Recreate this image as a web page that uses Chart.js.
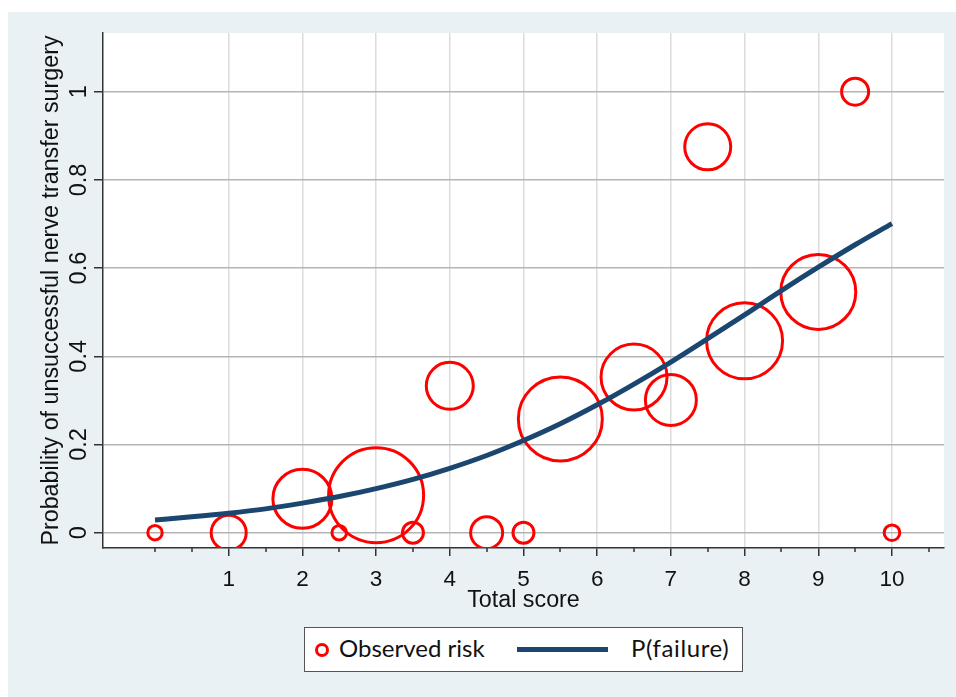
<!DOCTYPE html>
<html>
<head>
<meta charset="utf-8">
<script src="https://cdn.jsdelivr.net/npm/chart.js@4"></script>
<style>
  html, body { margin: 0; padding: 0; background: #ffffff; }
  #wrap { position: absolute; left: 8px; top: 12px; width: 948px; height: 685px; background: #e9f1f4; }
  #legend {
    position: absolute; left: 296px; top: 615px; width: 437px; height: 43px;
    background: #fff; border: 1px solid #555; font-family: Lato, sans-serif; font-size: 24px; color: #111;
  }
  #legend .mk { position: absolute; left: 10px; top: 15px; width: 8px; height: 8px; border: 3px solid #ff0000; border-radius: 50%; }
  #legend .t1 { position: absolute; left: 34px; top: 5px; }
  #legend .ln { position: absolute; left: 212px; top: 19px; width: 91px; height: 5px; background: #1a4670; }
  #legend .t2 { position: absolute; left: 326px; top: 5px; letter-spacing: 0.6px; }
</style>
</head>
<body>
<div id="wrap">
  <canvas id="chart" width="948" height="685"></canvas>
  <div id="legend">
    <span class="mk"></span><span class="t1">Observed risk</span>
    <span class="ln"></span><span class="t2">P(failure)</span>
  </div>
</div>
<script>
// observed risk per total score, with marker radius (weight)
const obsScore = [0, 1, 2, 2.5, 3, 3.5, 4, 4.5, 5, 5.5, 6.5, 7, 7.5, 8, 9, 9.5, 10];
const obsRisk = [0, 0, 0.077, 0, 0.085, 0, 0.333, 0, 0, 0.258, 0.353, 0.301, 0.875, 0.435, 0.546, 1.0, 0];
const obsWeight = [7.2, 17.5, 29.5, 7.3, 47.5, 10.5, 23.5, 16, 10.5, 42, 33, 25.5, 23, 38, 37.5, 13.5, 7.8];

// fitted P(failure) curve
const fitScore = [0, 0.5, 1, 1.5, 2, 2.5, 3, 3.5, 4, 4.5, 5, 5.5, 6, 6.5, 7, 7.5, 8, 8.5, 9, 9.5, 10];
const fitP = [0.029, 0.036, 0.044, 0.054, 0.067, 0.082, 0.100, 0.121, 0.146, 0.175, 0.209, 0.247, 0.290, 0.337, 0.387, 0.440, 0.494, 0.549, 0.602, 0.653, 0.701];

const xTicks = [1, 2, 3, 4, 5, 6, 7, 8, 9, 10];
const xMinorTicks = [0, 0.5, 1.5, 2.5, 3.5, 4.5, 5.5, 6.5, 7.5, 8.5, 9.5, 10.5];
const yTicks = [0, 0.2, 0.4, 0.6, 0.8, 1];

const xTickFont = { family: "'Liberation Sans', Arial, sans-serif", size: 22.5 };
const yTickFont = { family: "'Liberation Sans', Arial, sans-serif", size: 23.5 };
const titleFont = { family: "'Liberation Sans', Arial, sans-serif", size: 23.3 };

const plotBg = {
  id: 'plotBg',
  beforeDraw(chart) {
    const a = chart.chartArea, ctx = chart.ctx;
    ctx.save();
    ctx.fillStyle = '#ffffff';
    ctx.fillRect(a.left, a.top, a.right - a.left, a.bottom - a.top);
    ctx.restore();
  }
};

const minorTicks = {
  id: 'minorTicks',
  afterDraw(chart) {
    const x = chart.scales.x, ctx = chart.ctx;
    const y0 = chart.chartArea.bottom;
    ctx.save();
    ctx.strokeStyle = '#333';
    ctx.lineWidth = 1.5;
    xMinorTicks.forEach(v => {
      const px = Math.round(x.getPixelForValue(v));
      ctx.beginPath();
      ctx.moveTo(px, y0);
      ctx.lineTo(px, y0 + 4);
      ctx.stroke();
    });
    ctx.restore();
  }
};

new Chart(document.getElementById('chart'), {
  data: {
    datasets: [
      {
        type: 'line',
        label: 'P(failure)',
        data: fitScore.map((s, i) => ({ x: s, y: fitP[i] })),
        borderColor: '#1a4670',
        borderWidth: 5,
        pointRadius: 0,
        cubicInterpolationMode: 'monotone',
        fill: false,
        order: 0
      },
      {
        type: 'bubble',
        label: 'Observed risk',
        data: obsScore.map((s, i) => ({ x: s, y: obsRisk[i], r: obsWeight[i] })),
        backgroundColor: 'rgba(0,0,0,0)',
        borderColor: '#ff0000',
        borderWidth: 3,
        hoverRadius: 0,
        order: 1
      }
    ]
  },
  options: {
    responsive: false,
    animation: false,
    events: [],
    layout: { autoPadding: false, padding: { top: 21, right: 12, left: 0, bottom: 0 } },
    plugins: { legend: { display: false }, tooltip: { enabled: false } },
    scales: {
      x: {
        type: 'linear',
        min: -0.7056,
        max: 10.706,
        afterBuildTicks: s => { s.ticks = xTicks.map(v => ({ value: v })); },
        afterFit: s => { s.height = 149; s.paddingLeft = 0; s.paddingRight = 0; },
        ticks: { font: xTickFont, color: '#111', padding: 10, maxRotation: 0, autoSkip: false },
        grid: { color: '#dcdcdc', lineWidth: 1.5, tickLength: 8, tickColor: '#333' },
        border: { display: true, color: '#333', width: 1.5 },
        title: { display: true, text: 'Total score', font: titleFont, color: '#111', padding: { top: 0, bottom: 82 } }
      },
      y: {
        type: 'linear',
        min: -0.0347,
        max: 1.1331,
        afterBuildTicks: s => { s.ticks = yTicks.map(v => ({ value: v })); },
        afterFit: s => { s.width = 95; s.paddingTop = 0; s.paddingBottom = 0; },
        ticks: {
          font: yTickFont, color: '#111', padding: -2, minRotation: 90, maxRotation: 90,
          crossAlign: 'center', autoSkip: false,
          callback: v => String(v)
        },
        grid: { color: '#b4b4b4', lineWidth: 1.5, tickLength: 9, tickColor: '#333' },
        border: { display: true, color: '#333', width: 1.5 },
        title: { display: true, text: 'Probability of unsuccessful nerve transfer surgery', font: titleFont, color: '#111', padding: { top: 30, bottom: 0 } }
      }
    }
  },
  plugins: [plotBg, minorTicks]
});
</script>
</body>
</html>
